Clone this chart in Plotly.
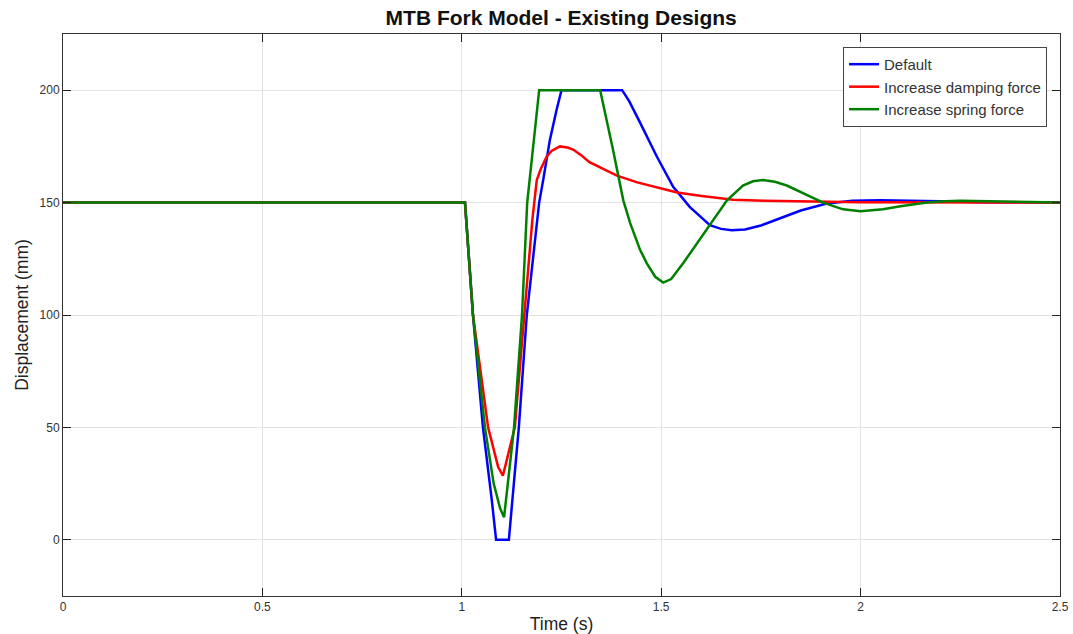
import plotly.graph_objects as go

# Fork travel response for three suspension set-ups (time in s, displacement in mm)
t_default = [0, 1.008, 1.028, 1.053, 1.075, 1.086, 1.118, 1.143, 1.163, 1.194, 1.204, 1.221, 1.238, 1.25,
             1.402, 1.42, 1.447, 1.489, 1.53, 1.572, 1.597, 1.622, 1.65, 1.677, 1.71, 1.75, 1.79, 1.85,
             1.915, 1.98, 2.05, 2.12, 2.2, 2.3, 2.5]
y_default = [150, 150, 100, 50, 18, 0, 0, 50, 100, 150, 160, 178, 191.5, 200,
             200, 195, 185.6, 170.5, 157, 148, 144, 140, 138.3, 137.7, 138, 139.8, 142.5, 146.5,
             149.6, 150.8, 151.1, 151, 150.6, 150.2, 150]

t_damping = [0, 1.008, 1.028, 1.066, 1.091, 1.103, 1.133, 1.156, 1.177, 1.188, 1.198, 1.213, 1.225,
             1.246, 1.265, 1.279, 1.30, 1.32, 1.35, 1.389, 1.44, 1.489, 1.54, 1.597, 1.68, 1.76,
             1.848, 2.0, 2.5]
y_damping = [150, 150, 100, 50, 32.5, 28.5, 50, 100, 142.5, 160, 165, 170.5, 173,
             175, 174.5, 173.6, 171, 168, 165.5, 162, 159, 156.7, 154.5, 153, 151.3, 150.8,
             150.5, 150.2, 150]

t_spring = [0, 1.008, 1.028, 1.058, 1.08, 1.096, 1.106, 1.118, 1.131, 1.151, 1.164, 1.194, 1.347,
            1.379, 1.405, 1.422, 1.435, 1.447, 1.464, 1.485, 1.505, 1.525, 1.555, 1.597, 1.622, 1.665,
            1.705, 1.73, 1.755, 1.785, 1.815, 1.865, 1.906, 1.956, 2.0, 2.056, 2.1, 2.166, 2.21, 2.25,
            2.3, 2.4, 2.5]
y_spring = [150, 150, 100, 50, 25, 14, 10, 30, 50, 100, 150, 200, 200,
            173.6, 151, 141, 134.5, 129, 123, 117, 114.4, 116, 123, 133.6, 140, 151,
            157.6, 159.5, 160, 159.3, 157.6, 153.6, 150, 147, 146.2, 147, 148.4, 150, 150.6, 150.8,
            150.7, 150.2, 150]

series = [
    ("Default", t_default, y_default, "#0000ff"),
    ("Increase damping force", t_damping, y_damping, "#ff0000"),
    ("Increase spring force", t_spring, y_spring, "#008000"),
]

x_ticks = [0, 0.5, 1, 1.5, 2, 2.5]
x_tick_text = ["0", "0.5", "1", "1.5", "2", "2.5"]
y_ticks = [0, 50, 100, 150, 200]

fig = go.Figure()
for name, t, y, color in series:
    fig.add_trace(go.Scatter(
        x=t, y=y, mode="lines", name=name,
        line=dict(color=color, width=2.5),
    ))

axis_common = dict(
    showline=True, linecolor="#333333", linewidth=1, mirror="ticks",
    ticks="inside", ticklen=8, tickcolor="#222222",
    showgrid=True, gridcolor="#e3e3e3", gridwidth=1, zeroline=False,
    tickfont=dict(size=12, color="#333333"),
)

fig.update_layout(
    width=1073, height=634,
    margin=dict(l=63, r=13, t=34, b=38, autoexpand=False),
    paper_bgcolor="white", plot_bgcolor="white",
    font=dict(family="Liberation Sans, Arial, sans-serif", color="#222222"),
    title=dict(text="<b>MTB Fork Model - Existing Designs</b>", x=0.523, xanchor="center",
               y=0.972, yanchor="middle", font=dict(size=21, color="#111111")),
    xaxis=dict(range=[0, 2.5], tickvals=x_ticks, ticktext=x_tick_text,
               title=dict(text="Time (s)", font=dict(size=17.5), standoff=4), **axis_common),
    yaxis=dict(range=[-25, 225], tickvals=y_ticks,
               title=dict(text="Displacement (mm)", font=dict(size=17.5), standoff=6), **axis_common),
    legend=dict(x=0.987, y=0.977, xanchor="right", yanchor="top",
                bgcolor="white", bordercolor="#444444", borderwidth=1,
                font=dict(size=15, color="#333333"), tracegroupgap=0, itemwidth=30),
    showlegend=True,
)

fig.write_html("out.html")
